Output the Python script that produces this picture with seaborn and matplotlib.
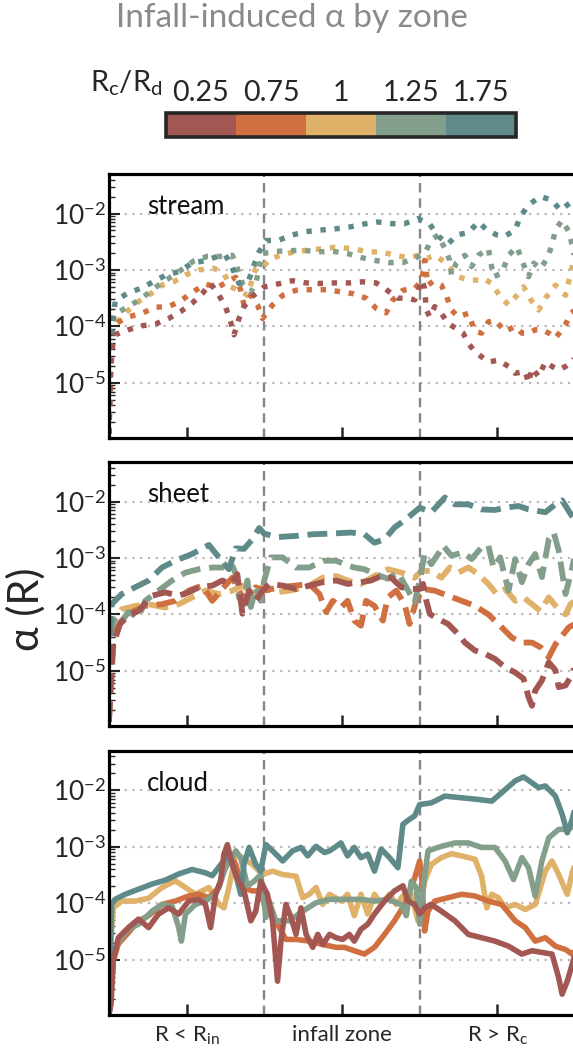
import numpy as np
import pandas as pd
import matplotlib
matplotlib.use("Agg")
import matplotlib.pyplot as plt
import seaborn as sns
from matplotlib.colors import ListedColormap, BoundaryNorm
from matplotlib.cm import ScalarMappable
from matplotlib.ticker import LogLocator, NullFormatter, FixedLocator, FixedFormatter

# ---------------- data (x in zone units, values are log10 alpha) ----------------
ratio_labels = ["0.25", "0.75", "1", "1.25", "1.75"]
ratio_colors = ["#A25752", "#D07040", "#E0B168", "#839F8B", "#5E8B8A"]
zone_ticks = [0.5, 1.5, 2.5]
zone_labels = [r"R < R$_\mathrm{in}$", "infall zone", r"R > R$_\mathrm{c}$"]
zone_edges = [1.0, 2.0]
panel_names = ["stream", "sheet", "cloud"]
ytick_vals = [1e-5, 1e-4, 1e-3, 1e-2]
ytick_labels = [r"$10^{-5}$", r"$10^{-4}$", r"$10^{-3}$", r"$10^{-2}$"]

# --- stream ---
stream_x_175 = [0.0, 0.01, 0.04, 0.115, 0.20, 0.265, 0.36, 0.45, 0.535, 0.61, 0.70, 0.75, 0.79, 0.837, 0.90,
                0.934, 0.966, 1.01, 1.096, 1.18, 1.27, 1.376, 1.463, 1.547, 1.633, 1.730, 1.817, 1.903, 1.989, 2.065,
                2.119, 2.183, 2.237, 2.313, 2.378, 2.432, 2.497, 2.550, 2.615, 2.647, 2.70, 2.776, 2.851, 2.905, 2.970, 3.0]
stream_a_175 = [-5.9, -4.3, -3.55, -3.42, -3.33, -3.24, -3.10, -3.03, -2.88, -2.84, -2.76, -2.74, -2.94, -3.24, -3.18,
                -2.91, -2.68, -2.48, -2.47, -2.38, -2.32, -2.29, -2.27, -2.24, -2.19, -2.15, -2.18, -2.18, -2.09, -2.19,
                -2.40, -2.54, -2.38, -2.34, -2.15, -2.29, -2.38, -2.40, -2.29, -2.06, -1.85, -1.70, -1.76, -1.94, -1.81, -1.79]
stream_x_125 = [0.0, 0.01, 0.028, 0.104, 0.179, 0.244, 0.319, 0.395, 0.470, 0.546, 0.632, 0.718, 0.794, 0.826, 0.859,
                0.913, 0.945, 0.988, 1.074, 1.161, 1.247, 1.344, 1.441, 1.536, 1.622, 1.709, 1.806, 1.892, 1.978, 2.032,
                2.075, 2.119, 2.162, 2.194, 2.205, 2.237, 2.291, 2.334, 2.378, 2.442, 2.475, 2.528, 2.572, 2.626, 2.658,
                2.701, 2.734, 2.777, 2.820, 2.852, 2.874, 2.917, 2.960, 2.982, 3.0]
stream_a_125 = [-5.9, -4.4, -3.80, -3.68, -3.56, -3.43, -3.27, -3.13, -2.99, -2.84, -2.76, -2.76, -2.74, -2.97, -3.24,
                -3.39, -3.24, -2.71, -2.67, -2.66, -2.65, -2.68, -2.67, -2.71, -2.78, -2.83, -2.87, -2.87, -2.78, -2.71,
                -2.47, -2.38, -2.62, -2.83, -3.09, -2.87, -2.74, -2.94, -2.74, -2.62, -3.12, -3.06, -2.74, -2.59, -2.83,
                -3.12, -2.88, -2.98, -2.80, -2.56, -2.29, -2.12, -2.32, -2.56, -2.83]
stream_x_100 = [0.0, 0.006, 0.013, 0.050, 0.114, 0.190, 0.255, 0.341, 0.416, 0.492, 0.578, 0.675, 0.740, 0.783, 0.837,
                0.891, 0.945, 0.988, 1.031, 1.107, 1.204, 1.290, 1.387, 1.450, 1.568, 1.666, 1.752, 1.838, 1.925, 2.000,
                2.043, 2.097, 2.162, 2.205, 2.248, 2.313, 2.378, 2.410, 2.464, 2.518, 2.572, 2.626, 2.669, 2.723, 2.766,
                2.809, 2.874, 2.939, 2.982, 3.0]
stream_a_100 = [-5.9, -4.8, -4.12, -3.92, -3.74, -3.56, -3.45, -3.27, -3.21, -3.09, -3.00, -2.97, -3.06, -3.30, -3.36,
                -3.45, -2.97, -2.97, -2.81, -2.74, -2.67, -2.65, -2.62, -2.60, -2.62, -2.68, -2.68, -2.74, -2.78, -2.74,
                -2.80, -2.74, -2.86, -3.00, -3.12, -3.18, -3.18, -3.15, -3.24, -3.47, -3.62, -3.45, -3.30, -3.56, -3.71,
                -3.50, -3.27, -3.45, -2.94, -2.71]
stream_x_075 = [0.0, 0.008, 0.02, 0.050, 0.125, 0.211, 0.298, 0.384, 0.460, 0.535, 0.621, 0.697, 0.762, 0.816, 0.848,
                0.869, 0.913, 0.956, 0.988, 1.053, 1.118, 1.204, 1.290, 1.398, 1.450, 1.568, 1.655, 1.720, 1.784, 1.828,
                1.892, 1.968, 2.015, 2.032, 2.054, 2.086, 2.140, 2.173, 2.205, 2.248, 2.313, 2.356, 2.399, 2.442, 2.485,
                2.550, 2.615, 2.658, 2.701, 2.744, 2.787, 2.831, 2.874, 2.939, 2.971, 3.0]
stream_a_075 = [-5.9, -4.6, -4.1, -3.94, -3.83, -3.77, -3.66, -3.65, -3.55, -3.40, -3.25, -3.31, -3.21, -3.13, -3.36,
                -3.62, -3.45, -3.62, -3.86, -3.62, -3.45, -3.36, -3.35, -3.35, -3.37, -3.42, -3.50, -3.68, -3.76, -3.53,
                -3.36, -3.33, -3.18, -2.83, -3.27, -3.20, -3.27, -3.47, -3.71, -3.83, -3.77, -4.09, -4.12, -3.92, -3.89,
                -4.09, -4.00, -4.12, -4.12, -4.06, -4.06, -4.12, -4.21, -3.97, -3.77, -3.71]
stream_x_025 = [0.0, 0.01, 0.02, 0.039, 0.125, 0.211, 0.298, 0.384, 0.460, 0.535, 0.600, 0.654, 0.708, 0.751, 0.783,
                0.805, 0.837, 0.869, 0.923, 0.999, 1.085, 1.182, 1.269, 1.355, 1.450, 1.547, 1.633, 1.720, 1.795, 1.860,
                1.914, 1.968, 2.015, 2.032, 2.043, 2.065, 2.097, 2.140, 2.183, 2.237, 2.280, 2.313, 2.356, 2.399, 2.442,
                2.507, 2.572, 2.615, 2.680, 2.701, 2.723, 2.766, 2.809, 2.852, 2.895, 2.939, 2.982, 3.0]
stream_a_025 = [-5.9, -4.9, -4.4, -4.15, -4.06, -3.99, -3.96, -3.86, -3.74, -3.59, -3.42, -3.24, -3.45, -3.66, -3.92,
                -4.15, -3.86, -3.65, -3.47, -3.30, -3.25, -3.19, -3.23, -3.24, -3.23, -3.23, -3.21, -3.23, -3.37, -3.50,
                -3.50, -3.53, -3.18, -3.33, -3.71, -3.83, -3.65, -3.77, -3.95, -4.04, -4.12, -4.30, -4.45, -4.54, -4.63,
                -4.60, -4.71, -4.83, -4.80, -5.0, -4.74, -4.89, -4.63, -4.71, -4.77, -4.71, -4.63, -4.54]

# --- sheet ---
sheet_x_175 = [0.0, 0.008, 0.017, 0.082, 0.168, 0.255, 0.341, 0.427, 0.535, 0.643, 0.708, 0.772, 0.816, 0.869, 0.923,
               0.967, 0.999, 1.085, 1.204, 1.312, 1.420, 1.558, 1.644, 1.709, 1.774, 1.838, 1.914, 2.000, 2.075, 2.162,
               2.227, 2.313, 2.399, 2.485, 2.550, 2.636, 2.701, 2.809, 2.874, 2.917, 2.960, 3.0]
sheet_a_175 = [-5.9, -4.3, -3.82, -3.64, -3.52, -3.40, -3.17, -3.05, -2.93, -2.77, -2.99, -3.20, -2.83, -2.84, -2.67,
               -2.47, -2.57, -2.63, -2.61, -2.58, -2.57, -2.55, -2.58, -2.73, -2.67, -2.46, -2.31, -2.11, -2.19, -1.93,
               -2.05, -2.05, -2.14, -2.15, -2.11, -2.08, -2.14, -2.19, -2.05, -1.98, -2.17, -2.34]
sheet_x_125 = [0.0, 0.008, 0.03, 0.060, 0.125, 0.190, 0.233, 0.319, 0.406, 0.492, 0.578, 0.665, 0.729, 0.783, 0.816,
               0.837, 0.869, 0.891, 0.913, 0.945, 0.977, 0.999, 1.042, 1.118, 1.204, 1.290, 1.376, 1.463, 1.515, 1.579,
               1.644, 1.720, 1.795, 1.860, 1.914, 1.968, 2.000, 2.032, 2.075, 2.119, 2.151, 2.205, 2.280, 2.334, 2.399,
               2.442, 2.475, 2.518, 2.572, 2.615, 2.658, 2.701, 2.744, 2.787, 2.831, 2.863, 2.895, 2.939, 2.982, 3.0]
sheet_a_125 = [-5.9, -4.3, -4.1, -4.20, -3.96, -4.05, -3.76, -3.58, -3.40, -3.26, -3.20, -3.17, -3.17, -3.05, -3.29,
               -3.70, -3.82, -3.40, -3.87, -3.52, -3.76, -3.40, -2.99, -2.99, -3.17, -3.17, -3.05, -3.05, -3.11, -3.17,
               -3.20, -3.29, -3.37, -3.26, -3.52, -3.79, -3.40, -2.93, -3.11, -2.93, -2.78, -2.96, -2.90, -3.02, -2.81,
               -2.78, -3.17, -2.99, -3.58, -3.02, -3.43, -3.11, -2.93, -3.34, -2.67, -2.55, -2.87, -3.64, -3.17, -2.93]
sheet_x_100 = [0.0, 0.008, 0.017, 0.082, 0.168, 0.255, 0.362, 0.449, 0.535, 0.621, 0.708, 0.794, 0.859, 0.923, 0.988,
               1.074, 1.161, 1.269, 1.376, 1.463, 1.536, 1.622, 1.709, 1.795, 1.882, 1.968, 2.011, 2.075, 2.140, 2.194,
               2.248, 2.313, 2.378, 2.442, 2.496, 2.550, 2.615, 2.669, 2.723, 2.777, 2.831, 2.884, 2.939, 2.971, 3.0]
sheet_a_100 = [-5.9, -4.5, -4.17, -3.91, -3.85, -3.82, -3.88, -3.82, -3.70, -3.58, -3.64, -3.58, -3.49, -3.64, -3.52,
               -3.61, -3.58, -3.52, -3.35, -3.32, -3.40, -3.46, -3.32, -3.20, -3.26, -3.35, -3.23, -3.23, -3.35, -3.17,
               -3.26, -3.17, -3.29, -3.46, -3.64, -3.55, -3.76, -3.70, -3.82, -3.94, -3.70, -3.88, -4.00, -3.82, -3.76]
sheet_x_075 = [0.0, 0.013, 0.039, 0.082, 0.147, 0.233, 0.341, 0.427, 0.513, 0.600, 0.665, 0.729, 0.794, 0.848, 0.902,
               0.945, 0.999, 1.096, 1.204, 1.290, 1.355, 1.398, 1.441, 1.493, 1.536, 1.579, 1.622, 1.655, 1.709, 1.763,
               1.795, 1.849, 1.903, 1.935, 1.978, 2.022, 2.097, 2.183, 2.270, 2.356, 2.442, 2.528, 2.593, 2.658, 2.723,
               2.777, 2.831, 2.874, 2.917, 2.960, 3.0]
sheet_a_075 = [-5.9, -4.53, -4.29, -4.11, -3.96, -3.85, -3.82, -3.76, -3.58, -3.49, -3.76, -3.55, -3.35, -3.64, -3.76,
               -3.52, -3.58, -3.52, -3.49, -3.46, -3.64, -3.96, -3.76, -3.88, -3.76, -4.11, -4.20, -3.76, -3.85, -4.11,
               -3.70, -3.58, -3.82, -4.17, -3.76, -3.55, -3.58, -3.67, -3.76, -3.85, -4.00, -4.23, -4.41, -4.50, -4.50,
               -4.58, -4.76, -4.53, -4.38, -4.23, -4.17]
sheet_x_025 = [0.0, 0.013, 0.028, 0.071, 0.125, 0.190, 0.276, 0.362, 0.449, 0.513, 0.578, 0.665, 0.729, 0.783, 0.826,
               0.859, 0.902, 0.945, 0.988, 1.031, 1.118, 1.204, 1.290, 1.376, 1.463, 1.536, 1.622, 1.687, 1.752, 1.817,
               1.882, 1.946, 2.000, 2.022, 2.043, 2.065, 2.097, 2.140, 2.183, 2.248, 2.291, 2.356, 2.421, 2.485, 2.550,
               2.615, 2.669, 2.701, 2.723, 2.744, 2.787, 2.831, 2.874, 2.895, 2.939, 2.982, 3.0]
sheet_a_025 = [-5.9, -5.23, -4.53, -4.17, -4.02, -3.94, -3.67, -3.61, -3.67, -3.61, -3.52, -3.49, -3.40, -3.46, -3.29,
               -3.99, -3.58, -3.76, -3.58, -3.46, -3.49, -3.55, -3.49, -3.43, -3.40, -3.46, -3.43, -3.40, -3.32, -3.35,
               -3.52, -3.55, -3.55, -3.46, -3.76, -3.99, -4.05, -4.11, -4.17, -4.35, -4.50, -4.64, -4.70, -4.79, -4.94,
               -5.03, -5.14, -5.47, -5.62, -5.35, -5.17, -4.85, -4.99, -5.29, -5.26, -5.06, -4.90]

# --- cloud ---
cloud_x_175 = [0.0, 0.006, 0.017, 0.039, 0.104, 0.190, 0.276, 0.362, 0.449, 0.535, 0.621, 0.665, 0.729, 0.772, 0.816,
               0.848, 0.869, 0.902, 0.945, 0.977, 1.010, 1.053, 1.118, 1.182, 1.236, 1.279, 1.333, 1.387, 1.420, 1.463,
               1.493, 1.536, 1.579, 1.622, 1.666, 1.709, 1.752, 1.806, 1.860, 1.892, 1.935, 1.968, 2.000, 2.075, 2.162,
               2.270, 2.378, 2.464, 2.528, 2.615, 2.669, 2.766, 2.809, 2.874, 2.917, 2.950, 2.982, 3.0]
cloud_a_175 = [-5.9, -5.37, -4.02, -3.93, -3.84, -3.75, -3.66, -3.59, -3.48, -3.40, -3.46, -3.51, -3.28, -3.13, -3.49,
               -3.84, -3.31, -3.01, -3.31, -3.43, -2.96, -3.07, -3.25, -3.07, -3.01, -3.16, -2.99, -3.10, -3.07, -2.99,
               -2.93, -3.16, -3.01, -3.19, -3.13, -3.43, -3.04, -3.19, -3.37, -2.60, -2.51, -2.45, -2.25, -2.22, -2.10,
               -2.13, -2.16, -2.19, -2.04, -1.83, -1.76, -1.95, -1.92, -2.10, -2.42, -2.75, -2.51, -2.31]
cloud_x_125 = [0.0, 0.006, 0.028, 0.060, 0.125, 0.190, 0.276, 0.341, 0.406, 0.449, 0.466, 0.492, 0.557, 0.621, 0.686,
               0.751, 0.816, 0.848, 0.891, 0.934, 0.977, 1.010, 1.031, 1.074, 1.118, 1.161, 1.247, 1.333, 1.420, 1.536,
               1.622, 1.709, 1.795, 1.882, 1.914, 1.946, 1.978, 2.000, 2.028, 2.054, 2.140, 2.227, 2.313, 2.399, 2.485,
               2.550, 2.604, 2.658, 2.701, 2.744, 2.787, 2.831, 2.895, 2.960, 3.0]
cloud_a_125 = [-5.95, -5.9, -4.90, -4.67, -4.46, -4.37, -4.14, -4.02, -4.05, -4.43, -4.67, -4.19, -4.02, -3.96, -3.84,
               -3.37, -3.07, -3.19, -3.69, -3.61, -3.49, -4.25, -3.96, -4.31, -4.31, -4.31, -4.14, -3.99, -3.93, -3.93,
               -3.93, -3.96, -3.93, -4.02, -4.22, -3.61, -3.72, -4.37, -3.61, -3.07, -2.99, -2.93, -2.93, -3.01, -3.01,
               -3.25, -3.58, -3.19, -3.37, -3.87, -3.25, -2.84, -2.69, -2.69, -2.60]
cloud_x_100 = [0.0, 0.006, 0.028, 0.082, 0.168, 0.255, 0.341, 0.427, 0.492, 0.557, 0.643, 0.708, 0.740, 0.772, 0.816,
               0.859, 0.923, 0.988, 1.053, 1.118, 1.204, 1.247, 1.290, 1.333, 1.376, 1.420, 1.493, 1.536, 1.579, 1.622,
               1.666, 1.709, 1.752, 1.806, 1.849, 1.892, 1.946, 1.989, 2.032, 2.075, 2.140, 2.205, 2.270, 2.356, 2.399,
               2.432, 2.464, 2.507, 2.550, 2.615, 2.680, 2.744, 2.809, 2.852, 2.895, 2.950, 2.982, 3.0]
cloud_a_100 = [-5.95, -4.79, -4.08, -3.96, -3.96, -3.91, -3.72, -3.60, -3.72, -3.84, -3.72, -4.02, -4.08, -3.72, -3.13,
               -3.19, -3.31, -3.49, -3.43, -3.49, -3.52, -3.90, -3.84, -3.72, -4.02, -3.84, -3.96, -3.84, -4.22, -3.84,
               -4.19, -3.84, -4.02, -3.84, -4.02, -3.87, -3.84, -4.31, -3.61, -3.31, -3.19, -3.12, -3.16, -3.22, -3.52,
               -4.08, -3.84, -3.90, -4.08, -4.02, -4.11, -4.02, -3.43, -3.25, -3.49, -3.84, -3.46, -3.31]
cloud_x_075 = [0.0, 0.006, 0.028, 0.060, 0.125, 0.190, 0.255, 0.341, 0.427, 0.513, 0.578, 0.643, 0.708, 0.772, 0.816,
               0.859, 0.923, 0.967, 1.010, 1.053, 1.096, 1.139, 1.204, 1.290, 1.376, 1.463, 1.515, 1.579, 1.644, 1.709,
               1.774, 1.838, 1.903, 1.968, 2.000, 2.015, 2.032, 2.054, 2.097, 2.183, 2.270, 2.356, 2.442, 2.528, 2.615,
               2.680, 2.744, 2.809, 2.874, 2.939, 2.982, 3.0]
cloud_a_075 = [-5.95, -5.79, -5.02, -4.72, -4.52, -4.31, -4.22, -4.02, -3.96, -3.87, -3.84, -3.90, -3.72, -3.13, -3.31,
               -3.72, -3.78, -3.78, -4.08, -4.25, -4.43, -4.64, -4.64, -4.67, -4.73, -4.78, -4.78, -4.84, -4.90, -4.78,
               -4.55, -4.31, -4.02, -3.55, -3.25, -3.61, -4.49, -4.14, -3.96, -3.90, -3.84, -3.87, -3.96, -4.02, -4.31,
               -4.43, -4.67, -4.61, -4.76, -4.82, -4.90, -4.84]
cloud_x_025 = [0.0, 0.013, 0.028, 0.060, 0.125, 0.190, 0.255, 0.319, 0.384, 0.449, 0.513, 0.578, 0.621, 0.654, 0.686,
               0.718, 0.740, 0.762, 0.794, 0.826, 0.869, 0.913, 0.945, 0.977, 1.020, 1.053, 1.085, 1.107, 1.139, 1.172,
               1.204, 1.236, 1.269, 1.312, 1.344, 1.376, 1.420, 1.463, 1.504, 1.547, 1.579, 1.622, 1.666, 1.709, 1.774,
               1.838, 1.892, 1.925, 1.968, 2.000, 2.032, 2.075, 2.140, 2.227, 2.313, 2.399, 2.485, 2.572, 2.658, 2.723,
               2.787, 2.852, 2.895, 2.917, 2.950, 2.982, 3.0]
cloud_a_025 = [-5.95, -5.79, -5.0, -4.61, -4.43, -4.28, -4.43, -4.19, -4.08, -4.19, -3.96, -3.93, -4.02, -4.43, -3.84,
               -3.61, -3.13, -2.96, -3.31, -3.55, -3.78, -4.31, -4.14, -3.61, -3.84, -4.31, -5.38, -4.67, -4.02, -4.25,
               -4.55, -4.08, -4.55, -4.78, -4.55, -4.73, -4.55, -4.61, -4.64, -4.55, -4.67, -4.46, -4.37, -4.19, -3.96,
               -3.78, -3.69, -3.96, -4.02, -4.19, -4.08, -4.02, -4.14, -4.31, -4.55, -4.61, -4.67, -4.76, -4.90, -4.84,
               -4.87, -4.90, -5.32, -5.61, -5.38, -5.08, -4.90]

panels = {
    "stream": [(stream_x_025, stream_a_025), (stream_x_075, stream_a_075), (stream_x_100, stream_a_100),
               (stream_x_125, stream_a_125), (stream_x_175, stream_a_175)],
    "sheet": [(sheet_x_025, sheet_a_025), (sheet_x_075, sheet_a_075), (sheet_x_100, sheet_a_100),
              (sheet_x_125, sheet_a_125), (sheet_x_175, sheet_a_175)],
    "cloud": [(cloud_x_025, cloud_a_025), (cloud_x_075, cloud_a_075), (cloud_x_100, cloud_a_100),
              (cloud_x_125, cloud_a_125), (cloud_x_175, cloud_a_175)],
}
panel_styles = {"stream": ((0, (1, 1.6)), 3.9), "sheet": ((0, (3.4, 1.5)), 4.2), "cloud": ("-", 4.0)}
draw_order = ["1", "0.75", "1.25", "1.75", "0.25"]

# ---------------- style ----------------
sns.set_theme(style="ticks")
plt.rcParams["font.family"] = ["Lato", "DejaVu Sans"]
plt.rcParams["mathtext.fontset"] = "custom"
plt.rcParams["mathtext.rm"] = "Lato"
plt.rcParams["mathtext.it"] = "Lato:italic"
plt.rcParams["mathtext.bf"] = "Lato:bold"
plt.rcParams["mathtext.sf"] = "Lato"
plt.rcParams["axes.unicode_minus"] = True

fig = plt.figure(figsize=(5.73, 10.53), dpi=100)
ax_bottoms = [0.584, 0.3105, 0.0361]
palette = dict(zip(ratio_labels, ratio_colors))

for i, name in enumerate(panel_names):
    ax = fig.add_axes([0.1902, ax_bottoms[i], 0.8133, 0.2507])
    frames = []
    for lab, (xs, ls) in zip(ratio_labels, panels[name]):
        assert len(xs) == len(ls), (name, lab, len(xs), len(ls))
        frames.append(pd.DataFrame({"R": xs, "alpha": np.power(10.0, ls), "ratio": lab}))
    df = pd.concat(frames, ignore_index=True)
    ls_, lw_ = panel_styles[name]
    ax.set_axisbelow(True)
    ax.yaxis.grid(True, which="major", linestyle=(0, (1, 2.5)), linewidth=1.6, color="#b8b8b8")
    for xe in zone_edges:
        ax.axvline(xe, color="#858585", linestyle=(0, (4, 2.5)), linewidth=1.7, zorder=1)
    sns.lineplot(data=df, x="R", y="alpha", hue="ratio", hue_order=draw_order, palette=palette,
                 estimator=None, sort=False, legend=False, linestyle=ls_, linewidth=lw_, ax=ax)
    ax.set_yscale("log")
    ax.set_ylim(1.05e-6, 5e-2)
    ax.set_xlim(0, 3)
    ax.set_xlabel("")
    ax.set_ylabel("")
    ax.yaxis.set_major_locator(FixedLocator(ytick_vals))
    ax.yaxis.set_major_formatter(FixedFormatter(ytick_labels))
    ax.yaxis.set_minor_locator(LogLocator(base=10, subs=np.arange(2, 10)))
    ax.yaxis.set_minor_formatter(NullFormatter())
    ax.set_xticks(zone_ticks)
    if i == 2:
        ax.set_xticklabels(zone_labels)
    else:
        ax.set_xticklabels([])
    ax.tick_params(axis="y", which="major", direction="in", length=8, width=1.5, labelsize=19, pad=2,
                   left=True, right=False)
    ax.tick_params(axis="y", which="minor", direction="in", length=4, width=1.0, left=True, right=False)
    ax.tick_params(axis="x", which="both", direction="in", length=8, width=1.8, labelsize=16, pad=7,
                   bottom=True, top=False)
    for sp in ax.spines.values():
        sp.set_linewidth(2.3)
        sp.set_color("black")
        sp.set_visible(True)
    ax.text(0.082, 0.847, name, transform=ax.transAxes, fontsize=18.5, va="baseline", ha="left", color="#111111")

# colorbar
cax = fig.add_axes([0.2897, 0.8696, 0.6108, 0.02336])
cmap = ListedColormap(ratio_colors)
norm = BoundaryNorm(np.arange(6), cmap.N)
cb = fig.colorbar(ScalarMappable(norm=norm, cmap=cmap), cax=cax, orientation="horizontal",
                  ticks=np.arange(5) + 0.5)
cb.ax.xaxis.set_ticks_position("top")
cb.ax.xaxis.set_label_position("top")
cb.set_ticklabels(ratio_labels)
cb.ax.tick_params(direction="in", length=5, width=1.5, labelsize=20.5, pad=5, color="black")
cb.outline.set_linewidth(2.6)
cb.ax.minorticks_off()

fig.text(0.2845, (1053 - 92) / 1053, r"R$_\mathrm{c}$/R$_\mathrm{d}$", ha="right", va="baseline", fontsize=21)
fig.text(0.51, (1053 - 27) / 1053, "Infall-induced α by zone", ha="center", va="baseline", fontsize=24,
         color="#8a8a8a")
fig.text(0.045, 0.4217, "α (R)", rotation=90, ha="center", va="center", fontsize=30)

fig.savefig("out.png", dpi=100)
